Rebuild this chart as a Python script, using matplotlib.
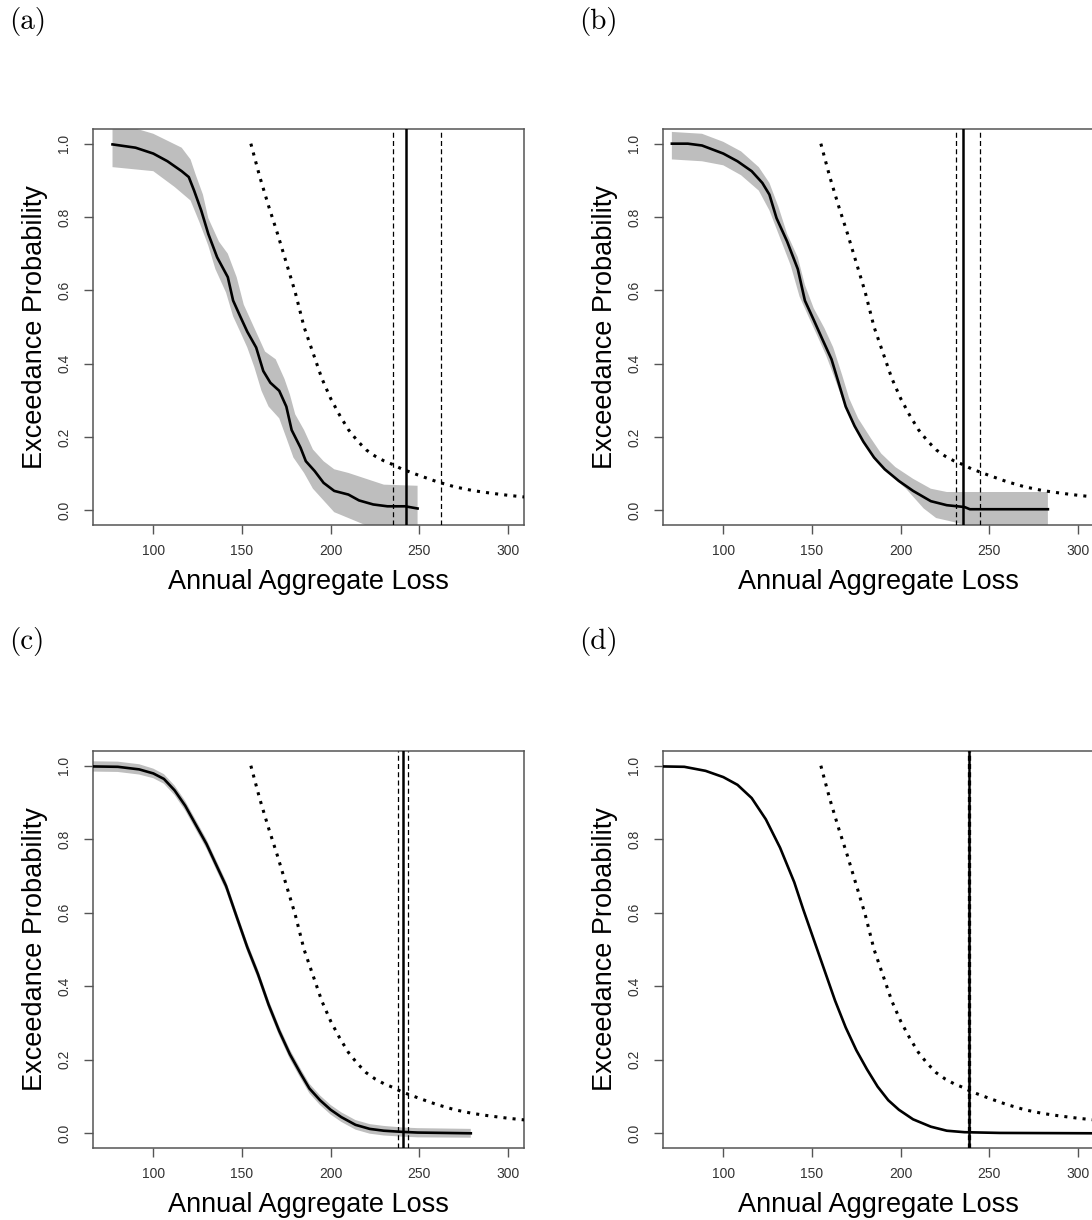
import matplotlib
matplotlib.use("Agg")
import matplotlib.pyplot as plt
import numpy as np

# ---- data ----
panel_labels = ["(a)", "(b)", "(c)", "(d)"]

# dotted reference curve (same in every panel)
dot_x = [155, 160, 165, 170, 175, 180, 185, 190, 195, 200, 205, 210, 215, 220,
         225, 230, 235, 240, 250, 260, 270, 280, 290, 300, 310]
dot_y = [1.0, 0.91, 0.83, 0.755, 0.675, 0.595, 0.50, 0.43, 0.36, 0.305, 0.26, 0.22,
         0.19, 0.165, 0.148, 0.135, 0.125, 0.113, 0.095, 0.078, 0.064, 0.054, 0.047,
         0.041, 0.036]

# (a)
a_x = [77, 90, 100, 108, 116, 120, 123, 127, 131, 136, 142, 145, 149, 153, 158,
       162, 166, 171, 175, 178, 183, 186, 191, 196, 202, 210, 216, 224, 232, 242, 249]
a_y = [0.998, 0.989, 0.973, 0.952, 0.925, 0.909, 0.872, 0.818, 0.754, 0.690, 0.636,
       0.572, 0.529, 0.487, 0.444, 0.380, 0.348, 0.326, 0.283, 0.219, 0.171, 0.134,
       0.107, 0.075, 0.053, 0.043, 0.027, 0.016, 0.011, 0.011, 0.005]
a_up_x = [77, 100, 116, 121, 124, 128, 131, 137, 142, 147, 151, 157, 163, 169, 174,
          177, 180, 185, 190, 196, 202, 210, 220, 230, 249, 249]
a_up_y = [1.06, 1.027, 0.989, 0.957, 0.914, 0.861, 0.797, 0.733, 0.700, 0.636, 0.561,
          0.497, 0.433, 0.412, 0.358, 0.316, 0.262, 0.219, 0.166, 0.134, 0.112, 0.102,
          0.086, 0.070, 0.067, -0.1]
a_lo_x = [77, 100, 112, 121, 126, 131, 135, 141, 145, 149, 153, 157, 161, 165, 171,
          175, 179, 185, 190, 196, 202, 210, 218, 249]
a_lo_y = [0.936, 0.925, 0.882, 0.845, 0.786, 0.722, 0.658, 0.594, 0.529, 0.487, 0.444,
          0.390, 0.326, 0.283, 0.251, 0.198, 0.144, 0.102, 0.059, 0.027, -0.005, -0.021,
          -0.037, -0.1]
a_vlines = [235, 242.5, 262]

# (b)
b_x = [71, 80, 88, 94, 100, 108, 116, 122, 126, 130, 136, 142, 146, 151, 156, 161,
       165, 169, 174, 179, 185, 191, 199, 207, 217, 226, 236, 239, 283]
b_y = [1.0, 1.0, 0.995, 0.984, 0.973, 0.952, 0.925, 0.893, 0.861, 0.797, 0.733, 0.658,
       0.572, 0.519, 0.465, 0.412, 0.348, 0.283, 0.230, 0.187, 0.144, 0.112, 0.080,
       0.053, 0.025, 0.014, 0.009, 0.003, 0.003]
b_up_x = [71, 88, 100, 110, 120, 126, 131, 136, 142, 146, 151, 157, 162, 167, 171,
          176, 183, 189, 197, 207, 217, 226, 283, 283]
b_up_y = [1.032, 1.027, 1.005, 0.979, 0.936, 0.893, 0.829, 0.754, 0.690, 0.615, 0.551,
          0.497, 0.444, 0.369, 0.305, 0.251, 0.198, 0.155, 0.118, 0.086, 0.059, 0.050,
          0.050, -0.1]
b_lo_x = [71, 88, 100, 110, 120, 126, 132, 138, 143, 148, 153, 158, 163, 167, 173,
          179, 185, 193, 203, 213, 220, 230, 283]
b_lo_y = [0.957, 0.952, 0.941, 0.914, 0.872, 0.818, 0.743, 0.668, 0.583, 0.529, 0.476,
          0.422, 0.358, 0.305, 0.241, 0.187, 0.144, 0.102, 0.059, 0.005, -0.021, -0.032,
          -0.1]
b_vlines = [231, 235.3, 244.5]

# (c)
c_x = [66, 80, 92, 100, 106, 112, 118, 124, 130, 135, 141, 147, 153, 159, 165, 171,
       177, 183, 188, 194, 200, 206, 214, 222, 230, 240, 249, 279]
c_y = [0.998, 0.997, 0.990, 0.979, 0.964, 0.933, 0.891, 0.839, 0.787, 0.735, 0.673,
       0.589, 0.506, 0.433, 0.350, 0.278, 0.215, 0.163, 0.122, 0.090, 0.064, 0.044,
       0.023, 0.012, 0.007, 0.004, 0.002, 0.0]
c_up_y = [1.012, 1.011, 1.004, 0.992, 0.977, 0.946, 0.904, 0.852, 0.800, 0.748, 0.686,
          0.602, 0.519, 0.446, 0.363, 0.291, 0.228, 0.176, 0.135, 0.103, 0.077, 0.057,
          0.036, 0.025, 0.020, 0.016, 0.014, 0.012]
c_lo_y = [0.984, 0.983, 0.976, 0.966, 0.951, 0.920, 0.878, 0.826, 0.774, 0.722, 0.660,
          0.576, 0.493, 0.420, 0.337, 0.265, 0.202, 0.150, 0.109, 0.077, 0.051, 0.031,
          0.010, -0.001, -0.006, -0.009, -0.011, -0.012]
c_vlines = [237.9, 240.5, 243.8]

# (d)
d_x = [66, 78, 90, 100, 108, 116, 124, 132, 140, 145, 151, 157, 163, 169, 175, 181,
       187, 193, 199, 207, 217, 226, 236, 256, 310]
d_y = [0.998, 0.997, 0.986, 0.969, 0.948, 0.912, 0.854, 0.777, 0.683, 0.610, 0.527,
       0.444, 0.361, 0.288, 0.226, 0.174, 0.127, 0.090, 0.064, 0.038, 0.018, 0.007,
       0.003, 0.001, 0.0]
d_vlines = [237.7, 238.4, 239.2]

x_ticks = [100, 150, 200, 250, 300]
y_ticks = [0.0, 0.2, 0.4, 0.6, 0.8, 1.0]

# ---- figure ----
W, H = 1092, 1220
fig = plt.figure(figsize=(W / 100, H / 100), dpi=100)

frame = "#555555"
band_col = "#bebebe"

def px_axes(left, top, right, bottom):
    return fig.add_axes([left / W, 1 - bottom / H, (right - left) / W, (bottom - top) / H])

boxes = [(93, 129, 524, 525), (663, 129, 1094, 525),
         (93, 751, 524, 1148), (663, 751, 1094, 1148)]

panels = [
    (a_x, a_y, (a_up_x, a_up_y, a_lo_x, a_lo_y), a_vlines),
    (b_x, b_y, (b_up_x, b_up_y, b_lo_x, b_lo_y), b_vlines),
    (c_x, c_y, (c_x, c_up_y, c_x, c_lo_y), c_vlines),
    (d_x, d_y, None, d_vlines),
]

for i, (box, (x, y, band, vl)) in enumerate(zip(boxes, panels)):
    ax = px_axes(*box)

    if band is not None:
        ux, uy, lx, ly = band
        ax.fill(np.concatenate([ux, lx[::-1]]), np.concatenate([uy, ly[::-1]]),
                color=band_col, lw=0, zorder=1)

    ax.plot(x, y, color="black", lw=1.9, zorder=3)
    ax.plot(dot_x, dot_y, color="black", lw=2.2, linestyle=(0, (1, 2)),
            dash_capstyle="butt", zorder=3)

    ax.axvline(vl[0], color="black", lw=0.9, dashes=(4, 2.6), zorder=4)
    ax.axvline(vl[2], color="black", lw=0.9, dashes=(4, 2.6), zorder=4)
    ax.axvline(vl[1], color="black", lw=1.8, zorder=4)

    ax.set_xlim(66, 309)
    ax.set_ylim(-0.04, 1.04)
    ax.set_xticks(x_ticks)
    ax.set_yticks(y_ticks)
    ax.set_xticklabels([str(t) for t in x_ticks])
    ax.set_yticklabels(["%.1f" % t for t in y_ticks], rotation=90, va="center")

    for s in ax.spines.values():
        s.set_color(frame)
        s.set_linewidth(1.1)
    ax.tick_params(axis="both", colors=frame, length=6.5, width=1.0,
                   labelsize=10, labelcolor="#333333")
    ax.tick_params(axis="x", pad=7)
    ax.tick_params(axis="y", pad=9)

    ax.set_xlabel("Annual Aggregate Loss", fontsize=19.5, family="Liberation Sans")
    ax.set_ylabel("Exceedance Probability", fontsize=19.5, family="Liberation Sans")
    ax.xaxis.set_label_coords(0.5, -0.112)
    ax.yaxis.set_label_coords(-0.105, 0.5)
    for lab in ax.get_xticklabels() + ax.get_yticklabels():
        lab.set_family("Liberation Sans")

    lx = 9 if i % 2 == 0 else 579
    ly = 22 if i < 2 else 641
    fig.text(lx / W, 1 - ly / H, panel_labels[i], family="cmr10", fontsize=21,
             ha="left", va="center")

fig.savefig("out.png", dpi=100)
